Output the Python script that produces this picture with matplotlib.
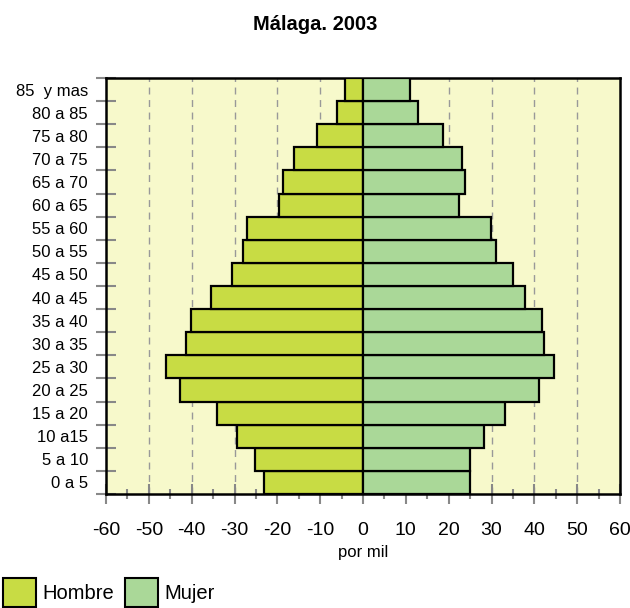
import matplotlib
matplotlib.use("Agg")
import matplotlib.pyplot as plt
from matplotlib.patches import Patch
from matplotlib.ticker import MultipleLocator
import numpy as np

plt.rcParams['font.family'] = ['Liberation Sans', 'DejaVu Sans']

categories = ["0 a 5", "5 a 10", "10 a15", "15 a 20", "20 a 25", "25 a 30", "30 a 35",
              "35 a 40", "40 a 45", "45 a 50", "50 a 55", "55 a 60", "60 a 65",
              "65 a 70", "70 a 75", "75 a 80", "80 a 85", "85  y mas"]
hombre = [-23.2, -25.3, -29.4, -34.2, -42.8, -46.0, -41.4, -40.2, -35.4, -30.7,
          -28.1, -27.0, -19.7, -18.7, -16.0, -10.8, -6.0, -4.2]
mujer = [24.9, 24.9, 28.2, 33.1, 41.2, 44.6, 42.3, 41.8, 37.9, 35.0,
         31.1, 29.8, 22.4, 23.9, 23.0, 18.6, 12.8, 10.9]
xticks = [-60, -50, -40, -30, -20, -10, 0, 10, 20, 30, 40, 50, 60]

c_h = "#C8DC44"
c_m = "#AAD898"
bg = "#F7F9CB"

fig = plt.figure(figsize=(6.3, 6.08), dpi=100)
ax = fig.add_axes([106/630, 1-494/608, 514/630, 416/608])
ax.set_facecolor(bg)

y = np.arange(len(categories))
ax.barh(y, hombre, height=1.0, color=c_h, edgecolor="black", linewidth=1.6, zorder=3)
ax.barh(y, mujer, height=1.0, color=c_m, edgecolor="black", linewidth=1.6, zorder=3)

ax.set_xlim(-60, 60)
ax.set_ylim(-0.5, len(categories) - 0.5)
for v in xticks[1:-1]:
    if v != 0:
        ax.axvline(v, color="#999999", linestyle=(0, (5, 4)), linewidth=1.0, zorder=1)

ax.set_xticks(xticks)
ax.set_xticklabels([str(v) for v in xticks], fontsize=14)
ax.xaxis.set_minor_locator(MultipleLocator(5))
ax.tick_params(axis='x', which='major', direction='inout', length=14, width=1.5,
               color="#888888", pad=13)
ax.tick_params(axis='x', which='minor', direction='inout', length=7, width=1.5,
               color="#888888")

ax.set_yticks(y)
ax.set_yticklabels(categories, fontsize=12)
ax.set_yticks(np.arange(-0.5, len(categories), 1.0), minor=True)
ax.tick_params(axis='y', which='major', length=0, pad=13)
ax.tick_params(axis='y', which='minor', direction='inout', length=14, width=1.5,
               color="#888888")

for s in ax.spines.values():
    s.set_linewidth(1.8)
    s.set_color("black")

ax.set_xlabel("por mil", fontsize=12, va="center")
ax.xaxis.set_label_coords(0.5, -59/416)
fig.text(0.5, 1-25/608, "Málaga. 2003", ha="center", va="center",
         fontsize=14.5, fontweight="bold")

handles = [Patch(facecolor=c_h, edgecolor="black", linewidth=1.5, label="Hombre"),
           Patch(facecolor=c_m, edgecolor="black", linewidth=1.5, label="Mujer")]
fig.legend(handles=handles, loc="lower left", bbox_to_anchor=(3/630, 1/608),
           ncol=2, frameon=False, fontsize=14.5, handlelength=1.64, handleheight=1.84,
           handletextpad=0.3, columnspacing=0.55, borderaxespad=0, borderpad=0)

fig.savefig("out.png", dpi=100)
